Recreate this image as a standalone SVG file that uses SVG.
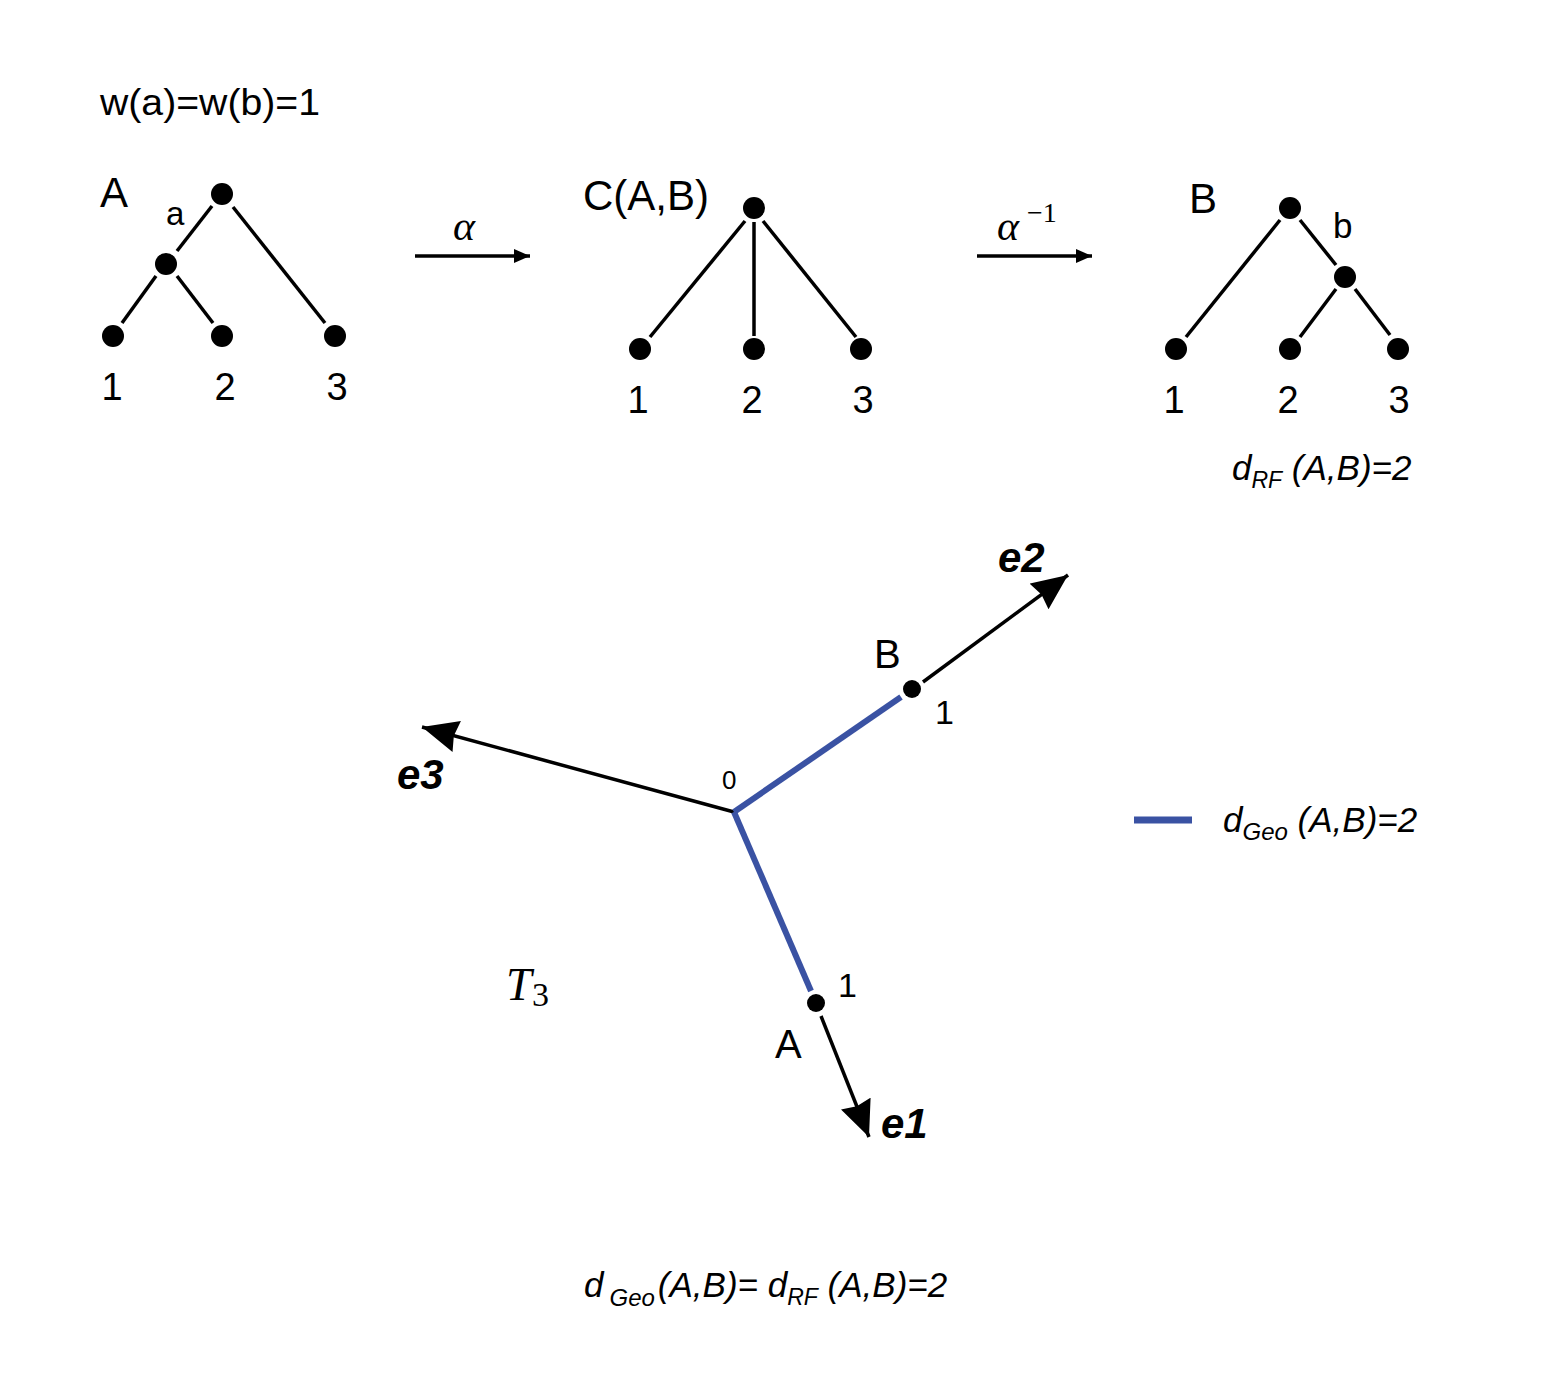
<svg xmlns="http://www.w3.org/2000/svg" width="1550" height="1397" viewBox="0 0 1550 1397">
<style>
text{font-family:"Liberation Sans","DejaVu Sans",sans-serif;fill:#000}
.lbl{font-size:38px}
.it{font-style:italic}
.math{font-family:"Liberation Serif","DejaVu Serif",serif;font-style:italic}
.ax{font-weight:bold;font-style:italic;font-size:42px}
.edge{stroke:#000;stroke-width:3.5;fill:none}
.geo{stroke:#3a52a3;stroke-width:6;fill:none}
.dot{fill:#000}
</style>
<defs>
<marker id="small" viewBox="0 0 16 14" refX="16" refY="7" markerWidth="16" markerHeight="14" markerUnits="userSpaceOnUse" orient="auto"><path d="M0,0 L16,7 L0,14 Z" fill="#000"/></marker>
<marker id="big" viewBox="0 0 36 32" refX="36" refY="16" markerWidth="36" markerHeight="32" markerUnits="userSpaceOnUse" orient="auto"><path d="M0,0 L36,16 L0,32 L3,16 Z" fill="#000"/></marker>
</defs>
<rect width="1550" height="1397" fill="#fff"/>

<text x="100" y="115" style="font-size:36px" textLength="220" lengthAdjust="spacingAndGlyphs">w(a)=w(b)=1</text>

<g id="treeA">
<text x="100" y="207" class="lbl" style="font-size:42px">A</text>
<text x="166" y="225" style="font-size:33px">a</text>
<line class="edge" x1="212" y1="206" x2="177" y2="251"/>
<line class="edge" x1="233" y1="207" x2="325" y2="323"/>
<line class="edge" x1="156" y1="276" x2="122" y2="323"/>
<line class="edge" x1="177" y1="276" x2="213" y2="323"/>
<circle class="dot" cx="222" cy="194" r="11"/>
<circle class="dot" cx="166" cy="264" r="11"/>
<circle class="dot" cx="113" cy="336" r="11"/>
<circle class="dot" cx="222" cy="336" r="11"/>
<circle class="dot" cx="335" cy="336" r="11"/>
<text x="112" y="400" class="lbl" text-anchor="middle">1</text>
<text x="225" y="400" class="lbl" text-anchor="middle">2</text>
<text x="337" y="400" class="lbl" text-anchor="middle">3</text>
</g>

<g id="treeC">
<text x="583" y="210" class="lbl" style="font-size:42px">C(A,B)</text>
<line class="edge" x1="745" y1="221" x2="650" y2="337"/>
<line class="edge" x1="754" y1="222" x2="754" y2="336"/>
<line class="edge" x1="763" y1="221" x2="856" y2="337"/>
<circle class="dot" cx="754" cy="208" r="11"/>
<circle class="dot" cx="640" cy="349" r="11"/>
<circle class="dot" cx="754" cy="349" r="11"/>
<circle class="dot" cx="861" cy="349" r="11"/>
<text x="638" y="413" class="lbl" text-anchor="middle">1</text>
<text x="752" y="413" class="lbl" text-anchor="middle">2</text>
<text x="863" y="413" class="lbl" text-anchor="middle">3</text>
</g>

<g id="treeB">
<text x="1189" y="213" class="lbl" style="font-size:42px">B</text>
<text x="1333" y="238" style="font-size:35px">b</text>
<line class="edge" x1="1280" y1="220" x2="1186" y2="337"/>
<line class="edge" x1="1300" y1="220" x2="1336" y2="265"/>
<line class="edge" x1="1336" y1="289" x2="1300" y2="337"/>
<line class="edge" x1="1355" y1="289" x2="1390" y2="335"/>
<circle class="dot" cx="1290" cy="208" r="11"/>
<circle class="dot" cx="1345" cy="277" r="11"/>
<circle class="dot" cx="1176" cy="349" r="11"/>
<circle class="dot" cx="1290" cy="349" r="11"/>
<circle class="dot" cx="1398" cy="349" r="11"/>
<text x="1174" y="413" class="lbl" text-anchor="middle">1</text>
<text x="1288" y="413" class="lbl" text-anchor="middle">2</text>
<text x="1399" y="413" class="lbl" text-anchor="middle">3</text>
<text x="1232" y="480" class="it" style="font-size:35px">d<tspan dy="8" style="font-size:23px">RF</tspan><tspan dy="-8"> (A,B)=2</tspan></text>
</g>

<g id="connectors">
<line class="edge" x1="415" y1="256" x2="530" y2="256" marker-end="url(#small)"/>
<text x="453" y="240" class="math" style="font-size:42px">α</text>
<line class="edge" x1="977" y1="256" x2="1092" y2="256" marker-end="url(#small)"/>
<text x="997" y="240" class="math" style="font-size:42px">α</text>
<text x="1027" y="222" class="math" style="font-size:28px;font-style:normal">−1</text>
</g>

<g id="space">
<line class="edge" x1="734" y1="812" x2="422" y2="727" marker-end="url(#big)"/>
<line class="geo" x1="734" y1="812" x2="901" y2="697"/>
<line class="edge" x1="923" y1="682" x2="1068" y2="575" marker-end="url(#big)"/>
<line class="geo" x1="734" y1="812" x2="811" y2="991"/>
<line class="edge" x1="821" y1="1016" x2="869" y2="1137" marker-end="url(#big)"/>
<circle class="dot" cx="912" cy="689" r="9"/>
<circle class="dot" cx="816" cy="1003" r="9"/>
<text x="998" y="572" class="ax">e2</text>
<text x="397" y="789" class="ax">e3</text>
<text x="881" y="1138" class="ax">e1</text>
<text x="874" y="668" class="lbl" style="font-size:40px">B</text>
<text x="935" y="724" style="font-size:34px">1</text>
<text x="722" y="789" style="font-size:26px">0</text>
<text x="838" y="997" style="font-size:34px">1</text>
<text x="775" y="1058" class="lbl" style="font-size:40px">A</text>
<text x="506" y="1000" class="math" style="font-size:46px">T</text>
<text x="532" y="1006" class="math" style="font-size:34px;font-style:normal">3</text>
</g>

<g id="legend">
<line x1="1134" y1="820" x2="1192" y2="820" stroke="#3a52a3" stroke-width="7"/>
<text x="1223" y="832" class="it" style="font-size:35px">d<tspan dy="8" style="font-size:24px">Geo</tspan><tspan dy="-8"> (A,B)=2</tspan></text>
</g>

<text x="584" y="1297" class="it" style="font-size:35px">d<tspan dx="6" dy="9" style="font-size:24px">Geo</tspan><tspan dx="3" dy="-9">(A,B)= d</tspan><tspan dy="8" style="font-size:23px">RF</tspan><tspan dy="-8"> (A,B)=2</tspan></text>
</svg>
